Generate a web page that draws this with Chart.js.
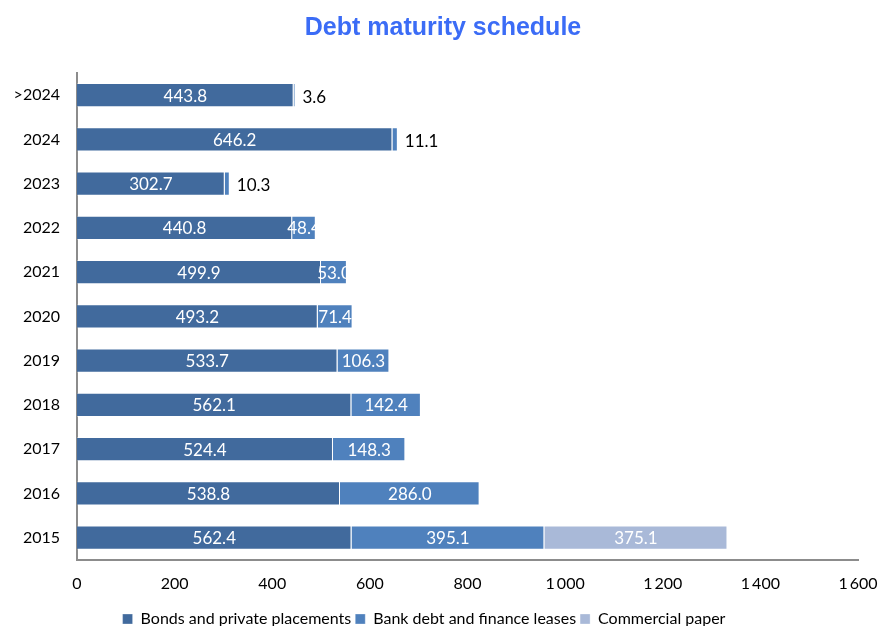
<!DOCTYPE html>
<html>
<head>
<meta charset="utf-8">
<script src="https://cdn.jsdelivr.net/npm/chart.js@4"></script>
<style>
  html, body { margin: 0; padding: 0; background: #fff; overflow: hidden; }
  #wrap { width: 881px; height: 626px; }
  canvas { display: block; }
</style>
</head>
<body>
<div id="wrap"><canvas id="debtChart" width="881" height="626"></canvas></div>
<script>
const years = ['>2024', '2024', '2023', '2022', '2021', '2020', '2019', '2018', '2017', '2016', '2015'];
const bonds = [443.8, 646.2, 302.7, 440.8, 499.9, 493.2, 533.7, 562.1, 524.4, 538.8, 562.4];
const bankDebt = [3.6, 11.1, 10.3, 48.4, 53.0, 71.4, 106.3, 142.4, 148.3, 286.0, 395.1];
const paper = [null, null, null, null, null, null, null, null, null, null, 375.1];
const xTicks = [0, 200, 400, 600, 800, 1000, 1200, 1400, 1600];

const labelFont = '17px Lato, "Noto Sans", sans-serif';

// draws the value labels, small ones go outside the bar end
const barLabels = {
    id: 'barLabels',
    afterDatasetsDraw(chart) {
        const ctx = chart.ctx;
        ctx.save();
        ctx.font = labelFont;
        ctx.textBaseline = 'middle';
        chart.data.datasets.forEach((ds, di) => {
            const meta = chart.getDatasetMeta(di);
            meta.data.forEach((bar, i) => {
                const v = ds.data[i];
                if (v == null) return;
                const txt = v.toFixed(1);
                if (v < 20) {
                    ctx.fillStyle = '#000';
                    ctx.textAlign = 'left';
                    ctx.fillText(txt, bar.x + 7, bar.y + 2);
                } else {
                    ctx.fillStyle = '#fff';
                    ctx.textAlign = 'center';
                    ctx.fillText(txt, (bar.x + bar.base) / 2, bar.y + 1);
                }
            });
        });
        ctx.restore();
    }
};

// title and legend are not centred on the same line in the original
const nudgeBlocks = {
    id: 'nudgeBlocks',
    afterLayout(chart) {
        chart.titleBlock.left += 14;
        chart.titleBlock.right += 14;
        chart.legend.left -= 5;
        chart.legend.right -= 5;
    }
};

new Chart(document.getElementById('debtChart'), {
    type: 'bar',
    data: {
        labels: years,
        datasets: [
            { label: 'Bonds and private placements', data: bonds, backgroundColor: '#416a9d' },
            { label: 'Bank debt and finance leases', data: bankDebt, backgroundColor: '#4f81bd' },
            { label: 'Commercial paper', data: paper, backgroundColor: '#a9b9d8' }
        ]
    },
    options: {
        indexAxis: 'y',
        responsive: false,
        animation: false,
        datasets: {
            bar: {
                categoryPercentage: 1,
                barPercentage: 0.55,
                borderWidth: 1,
                borderColor: 'rgba(255,255,255,0.3)',
                borderSkipped: 'left'
            }
        },
        layout: { padding: { left: 0, right: 23, top: 0, bottom: -11 } },
        scales: {
            x: {
                stacked: true,
                min: 0,
                max: 1600,
                afterBuildTicks: s => { s.ticks = xTicks.map(v => ({ value: v })); },
                afterFit: s => { s.paddingRight = 0; s.paddingLeft = 0; },
                grid: { display: false, drawTicks: false },
                border: { color: '#8c8c8c', width: 2 },
                ticks: {
                    color: '#000',
                    padding: 14,
                    font: { family: 'Lato, "Noto Sans", sans-serif', size: 16 },
                    callback: v => v >= 1000 ? String(v).replace(/(\d)(\d{3})$/, '$1\u2009$2') : String(v)
                }
            },
            y: {
                stacked: true,
                afterFit: s => { s.width = 77; },
                grid: { display: false, drawTicks: false },
                border: { color: '#8c8c8c', width: 2 },
                ticks: {
                    color: '#000',
                    padding: 17,
                    font: { family: 'Lato, "Noto Sans", sans-serif', size: 16 }
                }
            }
        },
        plugins: {
            title: {
                display: true,
                text: 'Debt maturity schedule',
                color: '#3b6cf6',
                font: { family: '"Liberation Sans", Arial, sans-serif', size: 25, weight: 'bold' },
                padding: { top: 13, bottom: 30 }
            },
            legend: {
                position: 'bottom',
                labels: {
                    color: '#000',
                    boxWidth: 10,
                    boxHeight: 10,
                    padding: 4,
                    font: { family: 'Lato, "Noto Sans", sans-serif', size: 16 }
                }
            },
            tooltip: { enabled: false }
        }
    },
    plugins: [barLabels, nudgeBlocks]
});
</script>
</body>
</html>
